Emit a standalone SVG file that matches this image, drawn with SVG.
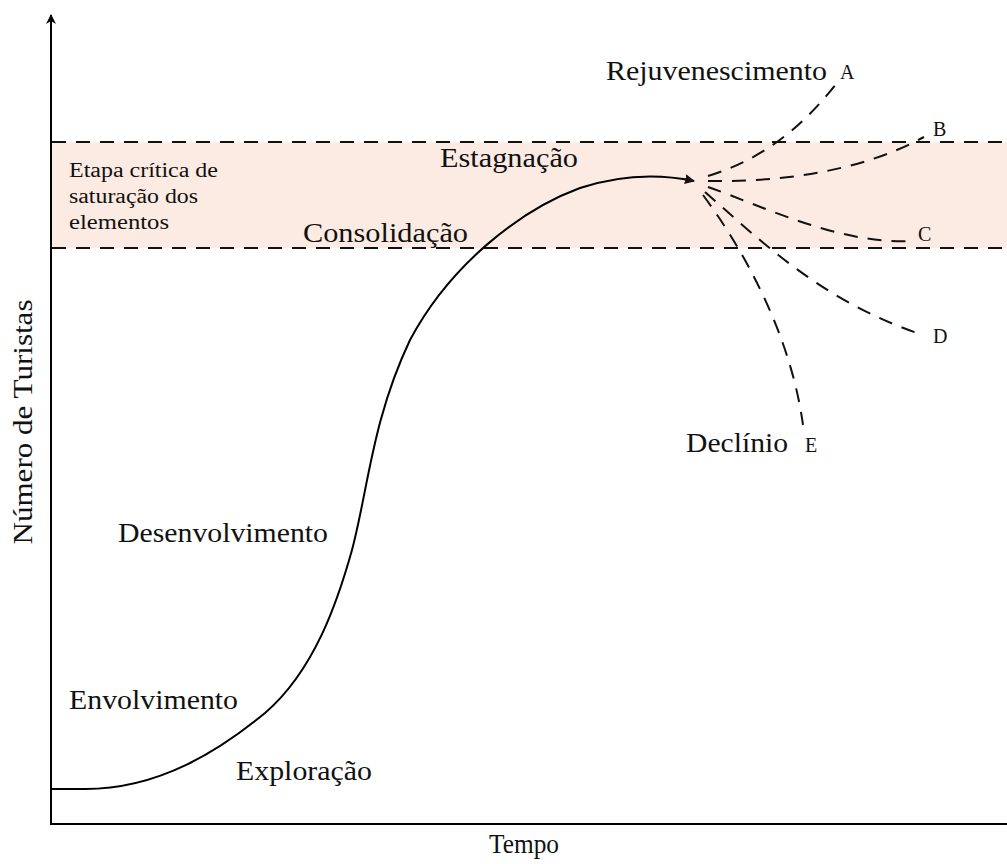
<svg xmlns="http://www.w3.org/2000/svg" width="1007" height="864" viewBox="0 0 1007 864">
<style>
text{font-family:"Liberation Serif","Times New Roman",serif;fill:#111}
.lg{font-size:27px}
.sm{font-size:20px}
.lt{font-size:20px}
.dash{fill:none;stroke:#111;stroke-width:2;stroke-dasharray:14 10}
.axis{fill:none;stroke:#000;stroke-width:2}
</style>
<defs>
<marker id="arrUp" viewBox="0 0 10 10" refX="9" refY="5" markerWidth="10" markerHeight="10" markerUnits="userSpaceOnUse" orient="auto">
<path d="M0,0 L10,5 L0,10 L3,5 Z" fill="#000"/>
</marker>
<marker id="tri" viewBox="0 0 10 10" refX="9" refY="5" markerWidth="10" markerHeight="10" markerUnits="userSpaceOnUse" orient="auto">
<path d="M0,0 L10,5 L0,10 Z" fill="#1a1010"/>
</marker>
</defs>
<g id="band">
<rect x="52" y="142" width="955" height="106" fill="#fcebe3"/>
<line x1="52" y1="142" x2="1007" y2="142" class="dash" stroke-dasharray="15 10"/>
<line x1="52" y1="248" x2="1007" y2="248" class="dash" stroke-dasharray="15 10"/>
<text class="sm" x="69" y="177" textLength="149" lengthAdjust="spacingAndGlyphs">Etapa crítica de</text>
<text class="sm" x="69" y="203" textLength="129" lengthAdjust="spacingAndGlyphs">saturação dos</text>
<text class="sm" x="69" y="229" textLength="100" lengthAdjust="spacingAndGlyphs">elementos</text>
</g>
<g id="axes">
<line x1="51" y1="825" x2="51" y2="15" class="axis" marker-end="url(#arrUp)"/>
<line x1="50" y1="824" x2="1007" y2="824" class="axis"/>
<text class="lg" x="524" y="853" text-anchor="middle" textLength="70" lengthAdjust="spacingAndGlyphs">Tempo</text>
<text class="lg" transform="translate(32,422) rotate(-90)" text-anchor="middle" textLength="245" lengthAdjust="spacingAndGlyphs">Número de Turistas</text>
</g>
<g id="connectors">
<path id="main-curve" d="M51,789 H85 C160,789 220,750 265,713 C315,670 338,600 352,550 C368,490 372,420 410,340 C450,265 520,210 580,188 C620,175 660,174 694,181" fill="none" stroke="#000" stroke-width="2" marker-end="url(#tri)"/>
<path id="path-A" class="dash" d="M708,176 C760,160 800,130 836,84"/>
<path id="path-B" class="dash" d="M708,181 C780,182 860,172 924,137"/>
<path id="path-C" class="dash" d="M708,187 C760,205 840,245 912,241"/>
<path id="path-D" class="dash" d="M705,192 C760,240 820,300 920,334"/>
<path id="path-E" class="dash" d="M703,195 C740,245 790,330 803,425"/>
</g>
<g id="stage-labels">
<text class="lg" x="606" y="80" textLength="221" lengthAdjust="spacingAndGlyphs">Rejuvenescimento</text>
<text class="lg" x="440" y="167" textLength="138" lengthAdjust="spacingAndGlyphs">Estagnação</text>
<text class="lg" x="303" y="242" textLength="165" lengthAdjust="spacingAndGlyphs">Consolidação</text>
<text class="lg" x="118" y="542" textLength="210" lengthAdjust="spacingAndGlyphs">Desenvolvimento</text>
<text class="lg" x="69" y="709" textLength="169" lengthAdjust="spacingAndGlyphs">Envolvimento</text>
<text class="lg" x="236" y="780" textLength="136" lengthAdjust="spacingAndGlyphs">Exploração</text>
<text class="lg" x="686" y="452" textLength="102" lengthAdjust="spacingAndGlyphs">Declínio</text>
</g>
<g id="letters">
<text class="lt" x="840" y="79">A</text>
<text class="lt" x="933" y="136">B</text>
<text class="lt" x="918" y="241">C</text>
<text class="lt" x="933" y="343">D</text>
<text class="lt" x="805" y="452">E</text>
</g>
</svg>
